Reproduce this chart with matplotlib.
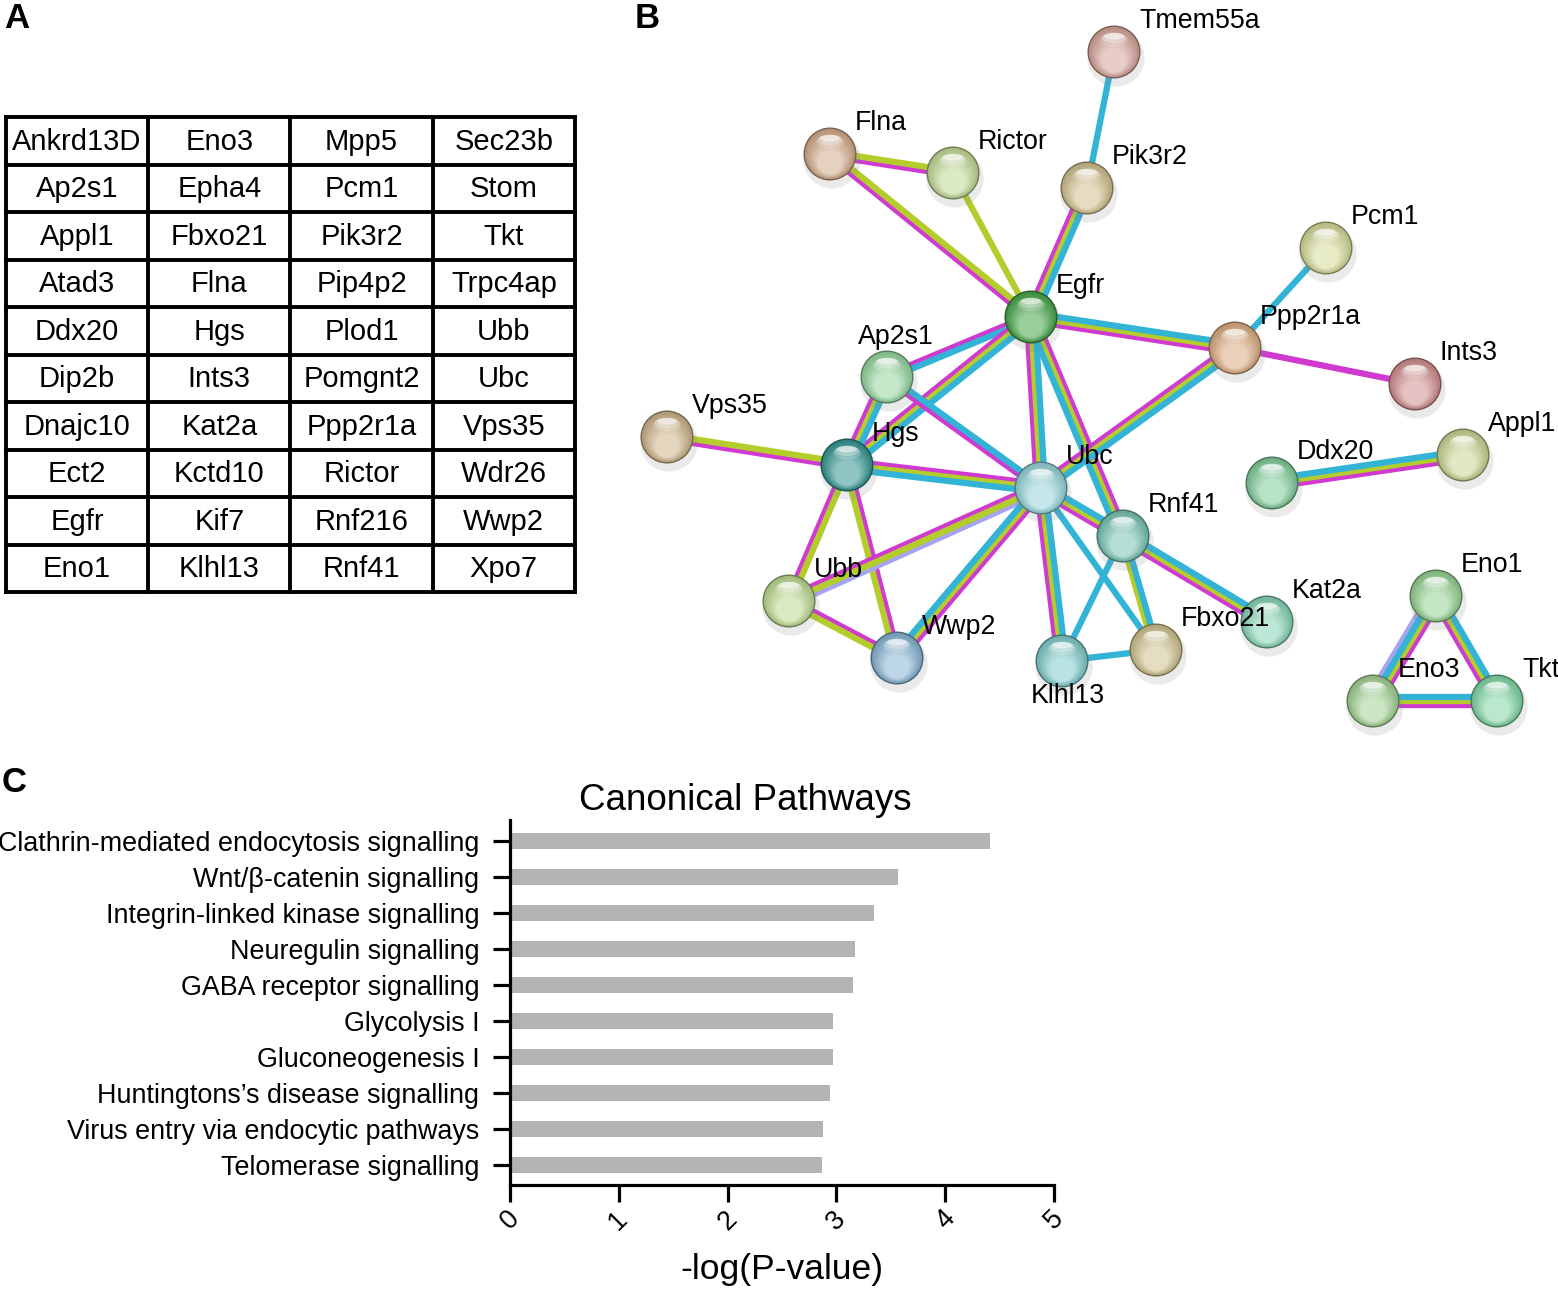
import matplotlib.pyplot as plt
import numpy as np
from matplotlib.patches import Circle, Ellipse
from matplotlib.colors import to_rgb

plt.rcParams['font.family'] = ['Liberation Sans', 'DejaVu Sans']

# ---- panel A: gene table (row-major)
table_rows = [
    ["Ankrd13D", "Eno3", "Mpp5", "Sec23b"],
    ["Ap2s1", "Epha4", "Pcm1", "Stom"],
    ["Appl1", "Fbxo21", "Pik3r2", "Tkt"],
    ["Atad3", "Flna", "Pip4p2", "Trpc4ap"],
    ["Ddx20", "Hgs", "Plod1", "Ubb"],
    ["Dip2b", "Ints3", "Pomgnt2", "Ubc"],
    ["Dnajc10", "Kat2a", "Ppp2r1a", "Vps35"],
    ["Ect2", "Kctd10", "Rictor", "Wdr26"],
    ["Egfr", "Kif7", "Rnf216", "Wwp2"],
    ["Eno1", "Klhl13", "Rnf41", "Xpo7"],
]

# ---- panel B: network (layout positions in pixels)
node_names = ["Tmem55a", "Flna", "Rictor", "Pik3r2", "Pcm1", "Egfr", "Ppp2r1a",
              "Ints3", "Ap2s1", "Vps35", "Hgs", "Ubc", "Ddx20", "Appl1", "Rnf41",
              "Ubb", "Kat2a", "Eno1", "Wwp2", "Klhl13", "Fbxo21", "Eno3", "Tkt"]
node_x = [1114, 830, 953, 1087, 1326, 1031, 1235, 1415, 887, 667, 847, 1041,
          1272, 1463, 1123, 789, 1267, 1436, 897, 1062, 1156, 1373, 1497]
node_y = [52, 154, 173, 188, 248, 317, 348, 384, 377, 437, 465, 488,
          483, 455, 536, 601, 622, 596, 658, 661, 650, 701, 701]
node_colors = ["#d6a49a", "#d2aa8a", "#c2da96", "#d2c08e", "#d4da98", "#46a64a",
               "#dcac82", "#d28e8e", "#96d6a0", "#ceb288", "#369692", "#96d4da",
               "#80cc9a", "#c8d692", "#78c4b4", "#bcda90", "#86d4b4", "#96d292",
               "#86b4d2", "#80caca", "#d0c28e", "#a2d294", "#80d6a4"]
label_dx = {"Ap2s1": -29, "Klhl13": 6}
label_dy = {"Ap2s1": -40, "Klhl13": 35}

edges = [
    ("Tmem55a", "Pik3r2", "c"), ("Flna", "Rictor", "ym"), ("Flna", "Egfr", "ym"),
    ("Rictor", "Egfr", "y"), ("Pik3r2", "Egfr", "cym"), ("Pcm1", "Ppp2r1a", "c"),
    ("Egfr", "Ppp2r1a", "cym"), ("Ppp2r1a", "Ints3", "m"), ("Egfr", "Ap2s1", "cm"),
    ("Egfr", "Hgs", "cym"), ("Egfr", "Ubc", "cym"), ("Egfr", "Rnf41", "myc"),
    ("Ppp2r1a", "Ubc", "cym"), ("Ap2s1", "Hgs", "cym"), ("Ap2s1", "Ubc", "cm"),
    ("Vps35", "Hgs", "ym"), ("Hgs", "Ubc", "myc"), ("Hgs", "Ubb", "ym"),
    ("Hgs", "Wwp2", "my"), ("Ubb", "Ubc", "myl"), ("Ubb", "Wwp2", "my"),
    ("Ubc", "Wwp2", "myc"), ("Ubc", "Rnf41", "cym"), ("Ubc", "Klhl13", "cym"),
    ("Ubc", "Fbxo21", "c"), ("Rnf41", "Klhl13", "c"), ("Rnf41", "Fbxo21", "cy"),
    ("Rnf41", "Kat2a", "cym"), ("Klhl13", "Fbxo21", "c"), ("Ddx20", "Appl1", "cym"),
    ("Eno1", "Eno3", "mycl"), ("Eno1", "Tkt", "cym"), ("Eno3", "Tkt", "cym"),
]
edge_colors = {"c": "#33b4d6", "m": "#d03ad0", "y": "#b4cc2c", "l": "#a4a4f2"}
draw_rank = {"l": 0, "m": 1, "y": 2, "c": 3}

# ---- panel C: canonical pathways
pathways = ["Clathrin-mediated endocytosis signalling", "Wnt/β-catenin signalling",
            "Integrin-linked kinase signalling", "Neuregulin signalling",
            "GABA receptor signalling", "Glycolysis I", "Gluconeogenesis I",
            "Huntingtons’s disease signalling", "Virus entry via endocytic pathways",
            "Telomerase signalling"]
neglogp = [4.41, 3.57, 3.35, 3.17, 3.15, 2.97, 2.97, 2.94, 2.88, 2.87]

W, H = 1558, 1289
fig = plt.figure(figsize=(W / 100, H / 100), dpi=100)
ov = fig.add_axes([0, 0, 1, 1])
ov.set_xlim(0, W)
ov.set_ylim(H, 0)
ov.axis('off')

# panel letters
for letter, lx, ly in [("A", 4, 2), ("B", 635, 2), ("C", 2, 766)]:
    ov.text(lx, ly, letter, fontsize=25, fontweight='bold', va='top', ha='left')

# ---- table
t_left, t_right, t_top, t_bottom = 6, 575, 117, 592
ncol, nrow = 4, len(table_rows)
cw = (t_right - t_left) / ncol
rh = (t_bottom - t_top) / nrow
for i in range(nrow + 1):
    ov.plot([t_left, t_right], [t_top + i * rh] * 2, color='black', lw=2.8,
            solid_capstyle='projecting')
for j in range(ncol + 1):
    ov.plot([t_left + j * cw] * 2, [t_top, t_bottom], color='black', lw=2.8,
            solid_capstyle='projecting')
for i, row in enumerate(table_rows):
    for j, gene in enumerate(row):
        ov.text(t_left + (j + 0.5) * cw, t_top + (i + 0.5) * rh + 1, gene,
                fontsize=21, ha='center', va='center')

# ---- network
pos = {n: np.array([x, y], float) for n, x, y in zip(node_names, node_x, node_y)}

for a, b, codes in edges:
    p, q = pos[a], pos[b]
    d = q - p
    nrm = np.array([-d[1], d[0]]) / np.hypot(*d)
    k = len(codes)
    order = sorted(range(k), key=lambda i: draw_rank[codes[i]])
    for i in order:
        off = (i - (k - 1) / 2) * 4.0
        ov.plot([p[0] + nrm[0] * off, q[0] + nrm[0] * off],
                [p[1] + nrm[1] * off, q[1] + nrm[1] * off],
                color=edge_colors[codes[i]], lw=4.5, solid_capstyle='butt', zorder=2)


def sphere(x, y, color, r=26.5):
    base = np.array(to_rgb(color))
    light = base + (1 - base) * 0.45
    ov.add_patch(Circle((x + 2, y + 6), r * 1.08, color='0.5', alpha=0.16, lw=0, zorder=3))
    ov.add_patch(Circle((x, y), r, color=base * 0.55, lw=0, zorder=4))
    n = 18
    for k in range(n):
        t = k / (n - 1)
        rr = r * (0.95 - 0.5 * t)
        cy = y + 0.32 * r * t
        c = np.clip(base * 0.86 * (1 - t) + light * t, 0, 1)
        ov.add_patch(Circle((x, cy), rr, color=c, lw=0, zorder=4))
    # glossy highlight
    for w, h, dy, al in [(1.05, 0.5, -0.46, 0.2), (0.92, 0.38, -0.53, 0.3),
                         (0.76, 0.25, -0.6, 0.5)]:
        ov.add_patch(Ellipse((x, y + dy * r), w * r, h * r, color='white',
                             alpha=al, lw=0, zorder=5))


for name, x, y, col in zip(node_names, node_x, node_y, node_colors):
    sphere(x, y, col)
    dx = label_dx.get(name, 25)
    dy = label_dy.get(name, -31)
    ha = 'center' if name == "Klhl13" else 'left'
    ov.text(x + dx, y + dy, name, fontsize=19.3, ha=ha, va='center', zorder=6)

# ---- bar chart
x0, x1, y0, y1 = 510, 1054, 820, 1185
ax = fig.add_axes([x0 / W, 1 - y1 / H, (x1 - x0) / W, (y1 - y0) / H])
ax.set_facecolor('none')
ypos = np.arange(len(pathways))
ax.barh(ypos, neglogp, height=0.44, color='#b3b3b3')
ax.set_xlim(0, 5)
ax.set_ylim(len(pathways) - 0.44, -0.58)
ax.set_yticks(ypos)
ax.set_yticklabels(pathways)
ax.set_xticks(range(6))
ax.set_xticklabels([str(i) for i in range(6)], rotation=45)
for s in ['top', 'right']:
    ax.spines[s].set_visible(False)
for s in ['left', 'bottom']:
    ax.spines[s].set_linewidth(2.3)
ax.tick_params(axis='y', width=2.3, length=12, labelsize=19.4, pad=10)
ax.tick_params(axis='x', width=2.3, length=12, labelsize=19.4, pad=3)

fig.text(745 / W, 1 - 800 / H, "Canonical Pathways", fontsize=26.5, ha='center', va='center')
fig.text(782 / W, 1 - 1270 / H, "-log(P-value)", fontsize=25.5, ha='center', va='center')

fig.savefig("out.png", dpi=100)
